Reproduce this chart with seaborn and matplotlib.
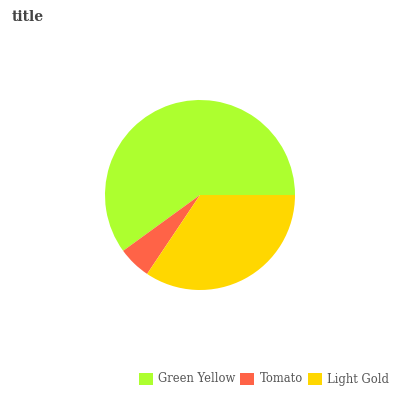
import matplotlib
matplotlib.use("Agg")
import matplotlib.pyplot as plt
import seaborn as sns

# Slice data
labels = ["Green Yellow", "Tomato", "Light Gold"]
values = [60.0, 5.6, 34.4]
colors = ["#ADFF2F", "#FF6347", "#FFD700"]

sns.set_style("white")
plt.rcParams['font.family'] = ['DejaVu Serif']

fig = plt.figure(figsize=(4, 4), dpi=100)
ax = fig.add_axes([105 / 400, 110 / 400, 190 / 400, 190 / 400])
wedges, _ = ax.pie(values, colors=colors, startangle=0, counterclock=True,
                   wedgeprops=dict(linewidth=0))
ax.set_xlim(-1, 1)
ax.set_ylim(-1, 1)
ax.set_aspect("equal")

fig.text(12 / 400, 1 - 17 / 400, "title", fontsize=10, fontweight="bold",
         color="#444444", va="center", ha="left")

leg = fig.legend(wedges, labels, loc="center", bbox_to_anchor=(264 / 400, 1 - 379 / 400),
                 ncol=3, frameon=False, fontsize=8.3, handlelength=1.2, handleheight=1.2,
                 handletextpad=0.5, columnspacing=0.4)
for t in leg.get_texts():
    t.set_color("#555555")

fig.savefig("out.png", dpi=100)
